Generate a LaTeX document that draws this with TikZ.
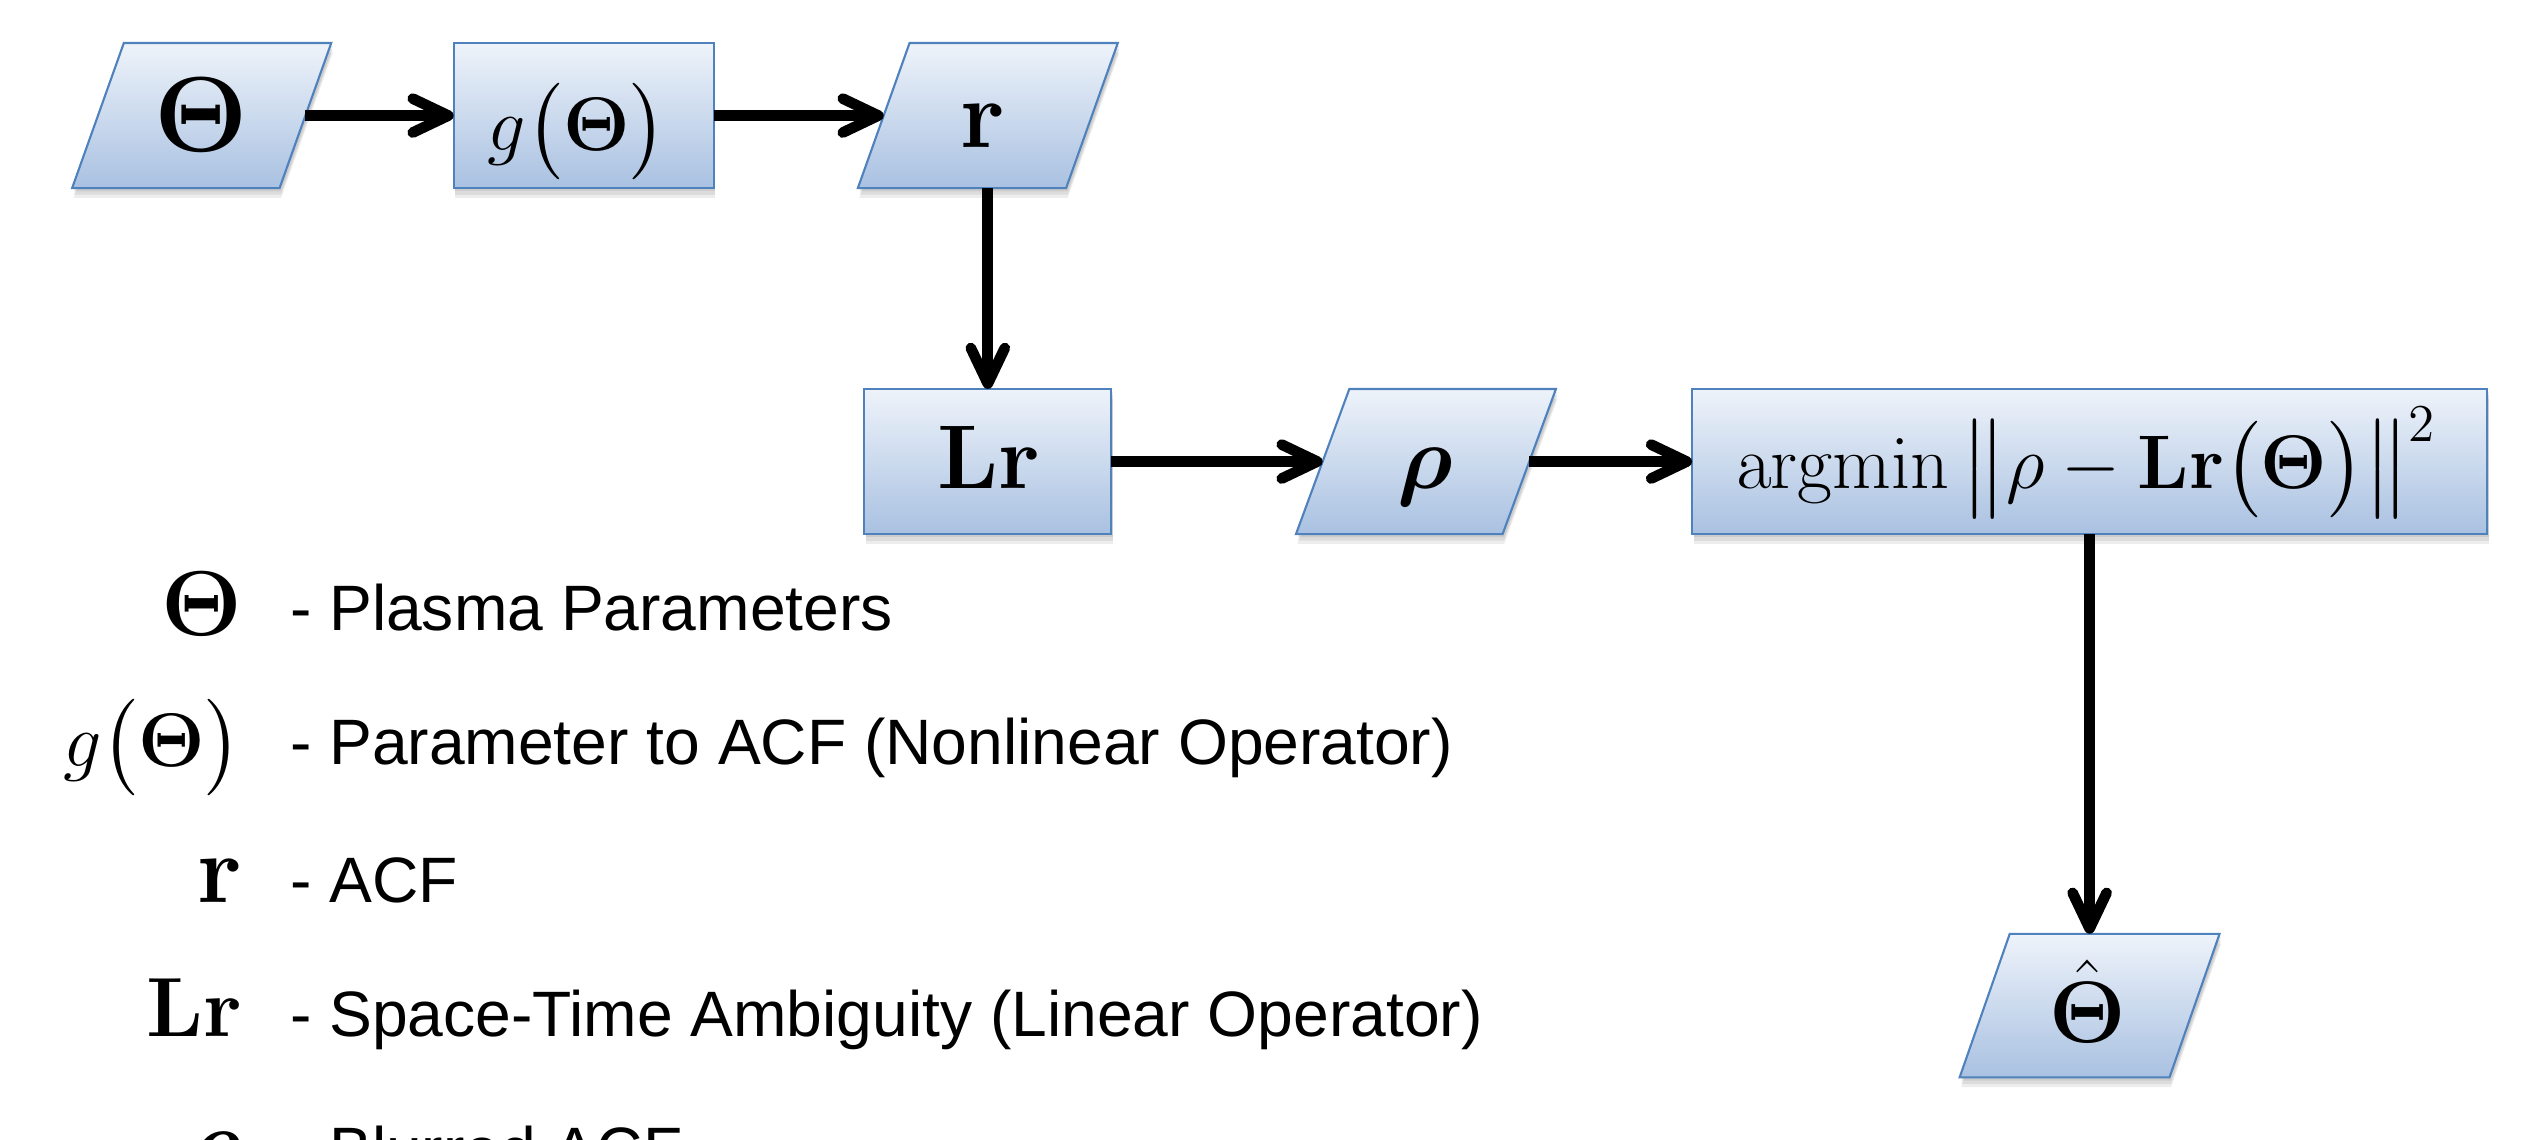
\RequirePackage{fix-cm}
\documentclass[tikz,border=0pt]{standalone}
\usepackage{amsmath}
\usepackage[no-math]{fontspec}
\newfontfamily\legfont{Liberation Sans}
\usetikzlibrary{arrows.meta,backgrounds}
\definecolor{bordercol}{HTML}{4F81BD}
\definecolor{topcol}{HTML}{EEF3FA}
\definecolor{botcol}{HTML}{A9C1E1}
\begin{document}
\begin{tikzpicture}[x=0.5pt,y=-0.5pt,
  box/.style={inner sep=0pt, minimum height=44.5pt, draw=none},
  lbl/.style={inner sep=0pt, anchor=base},
  sym/.style={inner sep=0pt, anchor=base east},
  legtext/.style={inner sep=0pt, anchor=base west, font=\legfont\fontsize{19.85}{24}\selectfont},
  arr/.style={line width=3.3pt, -{Straight Barb[length=11pt,width=10.5pt,round]}},
  shapefill/.style={draw=bordercol, line width=0.65pt, top color=topcol, bottom color=botcol},
  shadowfill/.style={fill=black, opacity=0.07, draw=none}
]
\useasboundingbox (0,0) rectangle (1568,705);
\clip (0,0) rectangle (1568,705);

% boxes (shape nodes)
\node[box, minimum width=63.75pt] (th)  at (124.75,71.5) {};
\node[box, minimum width=80pt]    (g)   at (361,71.5) {};
\node[box, minimum width=64pt]    (r)   at (611,71.5) {};
\node[box, minimum width=76pt]    (Lr)  at (611,285.5) {};
\node[box, minimum width=63.5pt]  (rho) at (882,285.5) {};
\node[box, minimum width=245.5pt] (am)  at (1292.5,285.5) {};
\node[box, minimum width=64.5pt, minimum height=44pt] (thh) at (1292.5,622) {};

% box outlines on background
\begin{pgfonlayer}{background}
\foreach \n/\s in {th/16,g/0,r/16,Lr/0,rho/16.5,am/0,thh/15.5}{
  \foreach \d in {1,2,3}{
    \fill[shadowfill] ([xshift=\s*0.5pt+0.5pt,yshift=-\d*1pt]\n.north west) -- ([xshift=\s*0.5pt+0.5pt,yshift=-\d*1pt]\n.north east) -- ([xshift=-\s*0.5pt+0.5pt,yshift=-\d*1pt]\n.south east) -- ([xshift=-\s*0.5pt+0.5pt,yshift=-\d*1pt]\n.south west) -- cycle;
  }
  \path[shapefill] ([xshift=\s*0.5pt]\n.north west) -- ([xshift=\s*0.5pt]\n.north east) -- ([xshift=-\s*0.5pt]\n.south east) -- ([xshift=-\s*0.5pt]\n.south west) -- cycle;
}
\end{pgfonlayer}

% box labels
\node[lbl] (thL)  at (124.5,94)   {\fontsize{33}{40}\selectfont$\boldsymbol{\Theta}$};
\node[lbl] (gL)   at (357,93)     {\fontsize{23.5}{28}\selectfont$g\bigl(\boldsymbol{\Theta}\bigr)$};
\node[lbl] (rL)   at (608,91)     {\fontsize{30}{36}\selectfont$\mathbf{r}$};
\node[lbl] (LrL)  at (611.5,302)  {\fontsize{28}{34}\selectfont$\mathbf{Lr}$};
\node[lbl] (rhoL) at (881.5,302)  {\fontsize{28}{34}\selectfont$\boldsymbol{\rho}$};
\node[lbl] (amL)  at (1290.5,302) {\fontsize{23.5}{28}\selectfont$\mathrm{argmin}\,\bigl\|\rho-\mathbf{Lr}\bigl(\boldsymbol{\Theta}\bigr)\bigr\|^2$};
\node[lbl] (thhL) at (1291.5,645) {\fontsize{27}{32}\selectfont$\hat{\boldsymbol{\Theta}}$};

% connectors
\draw[arr] (th.east) -- (g.west);
\draw[arr] (g.east) -- (r.west);
\draw[arr] (r.south) -- (Lr.north);
\draw[arr] (Lr.east) -- (rho.west);
\draw[arr] (rho.east) -- (am.west);
\draw[arr] (am.south) -- (thh.north);

% legend
\node[sym] (s1) at (150,393) {\fontsize{28.5}{34}\selectfont$\boldsymbol{\Theta}$};
\node[legtext] (t1) at (179,390) {- Plasma Parameters};
\node[sym] (s2) at (150,474) {\fontsize{23.5}{28}\selectfont$g\bigl(\boldsymbol{\Theta}\bigr)$};
\node[legtext] (t2) at (179,473) {- Parameter to ACF (Nonlinear Operator)};
\node[sym] (s3) at (150,558) {\fontsize{30}{36}\selectfont$\mathbf{r}$};
\node[legtext] (t3) at (179,558) {- ACF};
\node[sym] (s4) at (150,641) {\fontsize{26}{32}\selectfont$\mathbf{Lr}$};
\node[legtext] (t4) at (179,641) {- Space-Time Ambiguity (Linear Operator)};
\node[sym] (s5) at (150,725) {\fontsize{28}{34}\selectfont$\boldsymbol{\rho}$};
\node[legtext] (t5) at (179,725) {- Blurred ACF};
\end{tikzpicture}
\end{document}
